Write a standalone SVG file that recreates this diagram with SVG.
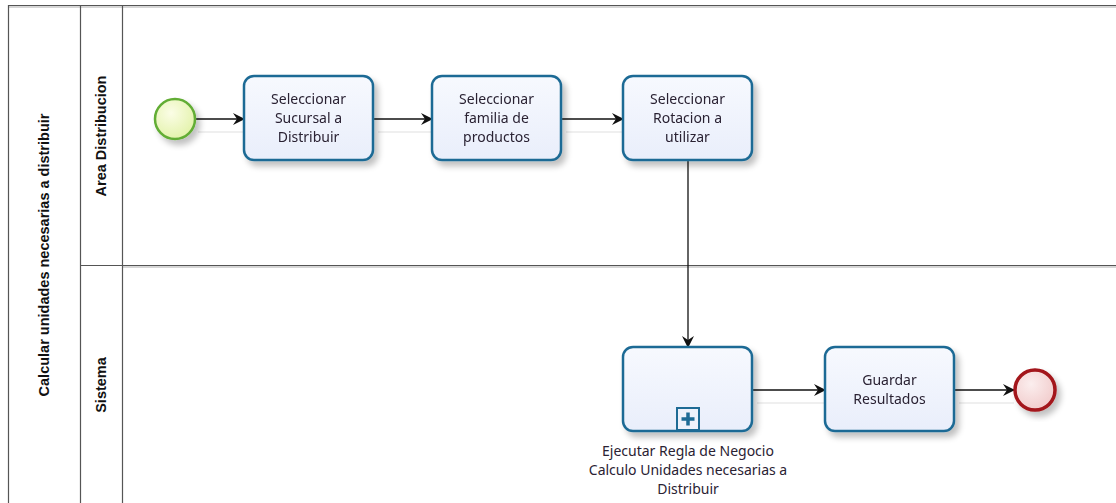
<svg xmlns="http://www.w3.org/2000/svg" width="1116" height="503" viewBox="0 0 1116 503">
  <defs>
    <linearGradient id="taskFill" x1="0" y1="0" x2="0" y2="1">
      <stop offset="0" stop-color="#f7f9fe"/>
      <stop offset="1" stop-color="#e9eefb"/>
    </linearGradient>
    <radialGradient id="startFill" cx="0.4" cy="0.35" r="0.7">
      <stop offset="0" stop-color="#fbfde6"/>
      <stop offset="1" stop-color="#e2f2a8"/>
    </radialGradient>
    <radialGradient id="endFill" cx="0.4" cy="0.35" r="0.7">
      <stop offset="0" stop-color="#fbeeee"/>
      <stop offset="1" stop-color="#f1caca"/>
    </radialGradient>
    <filter id="shadow" x="-20%" y="-20%" width="150%" height="150%">
      <feGaussianBlur in="SourceAlpha" stdDeviation="3"/>
      <feOffset dx="4" dy="5" result="b"/>
      <feComponentTransfer><feFuncA type="linear" slope="0.25"/></feComponentTransfer>
      <feMerge><feMergeNode/><feMergeNode in="SourceGraphic"/></feMerge>
    </filter>
    <marker id="arrow" viewBox="0 0 12 12" refX="11" refY="6" markerWidth="12" markerHeight="12" markerUnits="userSpaceOnUse" orient="auto">
      <path d="M0,0 L12,6 L0,12 L4,6 Z" fill="#111"/>
    </marker>
  </defs>
  <style>
    .lane { fill: none; stroke: #555; stroke-width: 1.2; }
    .laneShadow { fill: none; stroke: #c8c8c8; stroke-width: 1.5; }
    .task rect.body { fill: url(#taskFill); stroke: #1e6b95; stroke-width: 2.5; }
    .label { font-family: "Noto Sans", "Open Sans", sans-serif; font-size: 14px; fill: #2a2233; text-anchor: middle; }
    .hdr { font-family: "Liberation Sans", Arial, sans-serif; font-size: 14.5px; font-weight: bold; fill: #111; text-anchor: middle; }
    .flow { fill: none; stroke: #111; stroke-width: 1.3; marker-end: url(#arrow); }
    .flowShadow { fill: none; stroke: #efefef; stroke-width: 2; }
  </style>

  <rect width="1116" height="503" fill="#ffffff"/>

  <!-- pool and lanes -->
  <g id="pool">
    <line class="laneShadow" x1="9" y1="7" x2="1116" y2="7"/>
    <line class="laneShadow" x1="122" y1="267" x2="1116" y2="267"/>
    <line class="lane" x1="8" y1="5.5" x2="1116" y2="5.5"/>
    <line class="lane" x1="8.5" y1="5" x2="8.5" y2="503"/>
    <line class="lane" x1="80.5" y1="5" x2="80.5" y2="503"/>
    <line class="lane" x1="122.5" y1="5" x2="122.5" y2="503"/>
    <line class="lane" x1="80" y1="265.5" x2="1116" y2="265.5"/>
    <text class="hdr" transform="translate(49,255) rotate(-90)">Calcular unidades necesarias a distribuir</text>
  </g>
  <g id="lane-area">
    <text class="hdr" transform="translate(106,136) rotate(-90)">Area Distribucion</text>
  </g>
  <g id="lane-sistema">
    <text class="hdr" transform="translate(106,385) rotate(-90)">Sistema</text>
  </g>

  <!-- sequence flows -->
  <g id="connectors">
    <line class="flowShadow" x1="198" y1="132" x2="244" y2="132"/>
    <line class="flowShadow" x1="378" y1="132" x2="432" y2="132"/>
    <line class="flowShadow" x1="566" y1="132" x2="623" y2="132"/>
    <line class="flowShadow" x1="757" y1="403" x2="825" y2="403"/>
    <line class="flowShadow" x1="959" y1="403" x2="1014" y2="403"/>
    <path class="flow" d="M196,119 H244"/>
    <path class="flow" d="M373,119 H432"/>
    <path class="flow" d="M561,119 H623"/>
    <path class="flow" d="M688,160 V347"/>
    <path class="flow" d="M752,390 H825"/>
    <path class="flow" d="M954,390 H1014"/>
  </g>

  <!-- start event -->
  <g id="start" filter="url(#shadow)">
    <circle cx="175" cy="119" r="20" fill="url(#startFill)" stroke="#62ad34" stroke-width="2.5"/>
  </g>

  <!-- tasks -->
  <g id="task-sucursal" class="task" filter="url(#shadow)">
    <rect class="body" x="244" y="76" width="129" height="84" rx="10"/>
    <text class="label" x="308.5" y="104">Seleccionar</text>
    <text class="label" x="308.5" y="123">Sucursal a</text>
    <text class="label" x="308.5" y="142">Distribuir</text>
  </g>
  <g id="task-familia" class="task" filter="url(#shadow)">
    <rect class="body" x="432" y="76" width="129" height="84" rx="10"/>
    <text class="label" x="496.5" y="104">Seleccionar</text>
    <text class="label" x="496.5" y="123">familia de</text>
    <text class="label" x="496.5" y="142">productos</text>
  </g>
  <g id="task-rotacion" class="task" filter="url(#shadow)">
    <rect class="body" x="623" y="76" width="129" height="84" rx="10"/>
    <text class="label" x="687.5" y="104">Seleccionar</text>
    <text class="label" x="687.5" y="123">Rotacion a</text>
    <text class="label" x="687.5" y="142">utilizar</text>
  </g>

  <!-- collapsed subprocess -->
  <g id="subprocess-regla" class="task">
    <g filter="url(#shadow)">
      <rect class="body" x="623" y="347" width="129" height="84" rx="10"/>
    </g>
    <rect x="677" y="408" width="22" height="22" fill="#eef2fb" stroke="#1e6b95" stroke-width="2"/>
    <path d="M688,412.5 V425.5 M681.5,419 H694.5" stroke="#1e6b95" stroke-width="3.5" fill="none"/>
    <text class="label" x="688" y="456">Ejecutar Regla de Negocio</text>
    <text class="label" x="688" y="475">Calculo Unidades necesarias a</text>
    <text class="label" x="688" y="494">Distribuir</text>
  </g>

  <g id="task-guardar" class="task" filter="url(#shadow)">
    <rect class="body" x="825" y="347" width="129" height="84" rx="10"/>
    <text class="label" x="889.5" y="385">Guardar</text>
    <text class="label" x="889.5" y="404">Resultados</text>
  </g>

  <!-- end event -->
  <g id="end" filter="url(#shadow)">
    <circle cx="1035" cy="390" r="20" fill="url(#endFill)" stroke="#a3161a" stroke-width="3.5"/>
  </g>
</svg>
